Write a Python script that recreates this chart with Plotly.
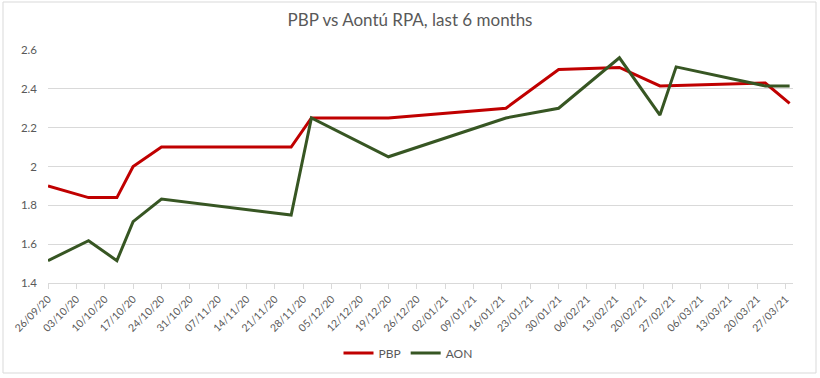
import plotly.graph_objects as go

# ---- data ----
pbp_dates = ["2020-09-26", "2020-10-06", "2020-10-13", "2020-10-17", "2020-10-24",
             "2020-11-25", "2020-11-30", "2020-12-19", "2021-01-17", "2021-01-30",
             "2021-02-14", "2021-02-24", "2021-03-22", "2021-03-28"]
pbp_values = [1.90, 1.84, 1.84, 2.00, 2.10, 2.10, 2.25, 2.25, 2.30, 2.50,
              2.51, 2.415, 2.43, 2.325]

aon_dates = ["2020-09-26", "2020-10-06", "2020-10-13", "2020-10-17", "2020-10-24",
             "2020-11-25", "2020-11-30", "2020-12-19", "2021-01-17", "2021-01-30",
             "2021-02-14", "2021-02-24", "2021-02-28", "2021-03-22", "2021-03-28"]
aon_values = [1.515, 1.618, 1.515, 1.716, 1.832, 1.75, 2.25, 2.05, 2.25, 2.30,
              2.56, 2.265, 2.513, 2.415, 2.415]

title_text = "PBP vs Aontú RPA, last 6 months"

# ---- layout constants ----
W, H = 820, 378
ML, MR, MT, MB = 48, 27, 50, 95
PW, PH = W - ML - MR, H - MT - MB
FONT = "Lato"
GREY = "#595959"
GRID = "#d9d9d9"


def px_x(p):
    return (p - ML) / PW


def px_y(p):
    return (H - MB - p) / PH


fig = go.Figure()
fig.add_trace(go.Scatter(x=pbp_dates, y=pbp_values, mode="lines", name="PBP",
                         line=dict(color="#C00000", width=3)))
fig.add_trace(go.Scatter(x=aon_dates, y=aon_values, mode="lines", name="AON",
                         line=dict(color="#375623", width=3)))

fig.update_layout(
    width=W, height=H,
    margin=dict(l=ML, r=MR, t=MT, b=MB, pad=0, autoexpand=False),
    paper_bgcolor="white", plot_bgcolor="white",
    font=dict(family=FONT, color=GREY, size=12),
    title=dict(text=title_text, x=0.5, xanchor="center", xref="container",
               y=1 - 20 / H, yanchor="middle", yref="container",
               automargin=False,
               font=dict(family=FONT, size=17, color=GREY)),
    showlegend=True,
    legend=dict(orientation="h", x=px_x(408), xanchor="center",
                y=px_y(353), yanchor="middle",
                font=dict(family=FONT, size=12, color=GREY),
                itemwidth=30, bgcolor="rgba(0,0,0,0)"),
    xaxis=dict(type="date", automargin=False,
               range=["2020-09-26", "2021-03-28 20:00"],
               tick0="2020-09-26", dtick=7 * 24 * 3600 * 1000,
               tickformat="%d/%m/%y", tickangle=-45,
               ticks="outside", ticklen=5, tickcolor=GRID,
               showline=True, linecolor=GRID, linewidth=1,
               showgrid=False, zeroline=False,
               tickfont=dict(family=FONT, size=10.5, color=GREY)),
    yaxis=dict(range=[1.4, 2.6], dtick=0.2, tick0=1.4, automargin=False,
               showgrid=True, gridcolor=GRID, gridwidth=1,
               zeroline=False, showline=False, ticks="",
               ticklabelstandoff=10,
               tickfont=dict(family=FONT, size=11.5, color=GREY)),
    shapes=[dict(type="rect", xref="paper", yref="paper",
                 x0=px_x(3), x1=px_x(816), y0=px_y(373), y1=px_y(2),
                 line=dict(color=GRID, width=1), layer="below")],
)

fig.write_html("out.html",
               config={"displayModeBar": False},
               post_script="document.body.style.margin='0';"
                           "document.body.style.overflow='hidden';")
